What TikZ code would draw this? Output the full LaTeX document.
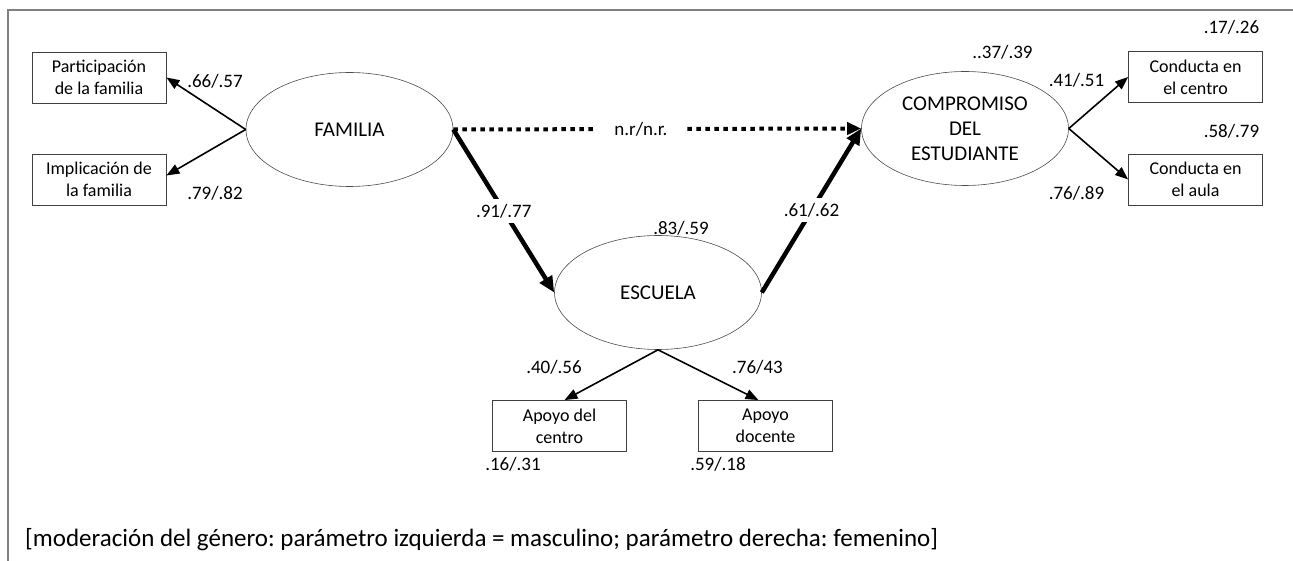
\documentclass[tikz,border=0pt]{standalone}
\usepackage{fontspec}
\setmainfont{Carlito}
\usetikzlibrary{shapes.geometric,arrows.meta}
\frenchspacing

\begin{document}
\begin{tikzpicture}
  [x=1pt, y=-1pt]
  \tikzstyle{obs_box} = [draw=black!75, line width=0.8pt, minimum width=134pt, minimum height=51pt, inner sep=0pt, align=center, font=\fontsize{18}{22}\selectfont];
  \tikzstyle{latent} = [draw=black!70, ellipse, line width=0.6pt, minimum width=207pt, minimum height=114pt, inner sep=0pt, align=center, font=\fontsize{21}{25}\selectfont];
  \tikzstyle{coef} = [inner sep=2pt, font=\fontsize{19}{22}\selectfont];
  \tikzstyle{load_arrow} = [-{Triangle[length=13pt, width=10pt]}, line width=1.6pt];
  \tikzstyle{path_arrow} = [-{Triangle[length=16pt, width=14pt]}, line width=4.5pt];
  \tikzstyle{nr_arrow} = [-{Triangle[length=14pt, width=12pt]}, line width=4pt, dash pattern=on 4.5pt off 4.5pt];

  \useasboundingbox (0,0) rectangle (1293,561);
  \draw[black!50, line width=2pt] (8,561) -- (8,10) -- (1293,10);

  % latent variables
  \node[latent] (fam)  at (349.5,129.5) {FAMILIA};
  \node[latent] (comp) at (965,128.5) {COMPROMISO\\DEL\\ESTUDIANTE};
  \node[latent] (esc)  at (658,292.5) {ESCUELA};

  % indicators
  \node[obs_box] (part) at (99,77.5)    {Participación\\de la familia};
  \node[obs_box] (impl) at (99,179.5)   {Implicación de\\la familia};
  \node[obs_box] (cent) at (1195.5,77)  {Conducta en\\el centro};
  \node[obs_box] (aula) at (1195.5,179.5) {Conducta en\\el aula};
  \node[obs_box] (apc)  at (559.5,426)  {Apoyo del\\centro};
  \node[obs_box] (apd)  at (765.5,426)  {Apoyo\\docente};

  % loadings
  \draw[load_arrow] (fam.west) -- (part.east);
  \draw[load_arrow] (fam.west) -- ([yshift=4pt]impl.east);
  \draw[load_arrow] (comp.east) -- (cent.west);
  \draw[load_arrow] (comp.east) -- (aula.west);
  \draw[load_arrow] (esc.south) -- ([xshift=5pt]apc.north);
  \draw[load_arrow] (esc.south) -- ([xshift=-7pt]apd.north);

  % structural paths
  \draw[path_arrow] (fam.east) -- node[coef, fill=white, inner sep=5pt] {.91/.77} (esc.west);
  \draw[path_arrow] (esc.east) -- node[coef, fill=white, inner sep=5pt] {.61/.62} (comp.west);
  \draw[nr_arrow] (fam.east) -- node[coef, fill=white, inner xsep=20pt, pos=0.46] {n.r/n.r.} (comp.west);

  \node[coef] (c1) at (215,81)     {.66/.57};
  \node[coef] (c2) at (215,193)    {.79/.82};
  \node[coef] (c3) at (1076.5,80)  {.41/.51};
  \node[coef] (c4) at (1076.5,193) {.76/.89};
  \node[coef] (c5) at (554,367)    {.40/.56};
  \node[coef] (c6) at (757.5,367)  {.76/43};

  \node[coef] (r1) at (1231.5,27)  {.17/.26};
  \node[coef] (r2) at (1231.5,131) {.58/.79};
  \node[coef] (r3) at (1002.5,52)  {..37/.39};
  \node[coef] (r4) at (681,228)    {.83/.59};
  \node[coef] (r5) at (513,464)    {.16/.31};
  \node[coef] (r6) at (718,464)    {.59/.18};

  \node[anchor=west, inner sep=0pt, font=\fontsize{25}{29}\selectfont] (note) at (25,540)
    {[moderación del género: parámetro izquierda = masculino; parámetro derecha: femenino]};

\end{tikzpicture}
\end{document}
